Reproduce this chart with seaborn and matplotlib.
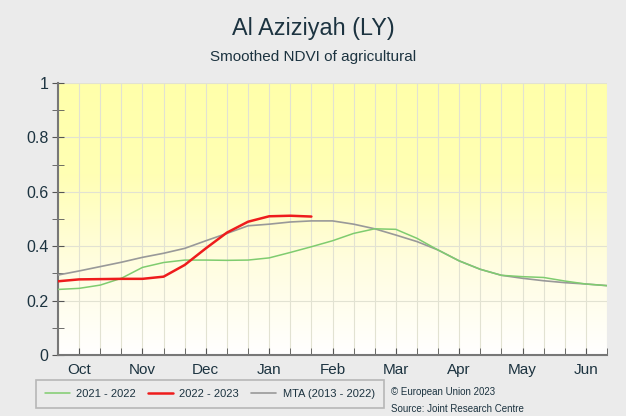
import numpy as np
import pandas as pd
import matplotlib
matplotlib.use("Agg")
import matplotlib.pyplot as plt
import seaborn as sns
from matplotlib.colors import LinearSegmentedColormap

# dekads from Oct dek1 (0) to Jun dek3 (26)
months = ['Oct', 'Nov', 'Dec', 'Jan', 'Feb', 'Mar', 'Apr', 'May', 'Jun']
yticks = [0, 0.2, 0.4, 0.6, 0.8, 1]
ytick_labels = ['0', '0.2', '0.4', '0.6', '0.8', '1']

ndvi_2122 = [0.241, 0.245, 0.257, 0.282, 0.322, 0.340, 0.349, 0.349, 0.348,
             0.349, 0.357, 0.377, 0.398, 0.420, 0.447, 0.464, 0.462, 0.429,
             0.386, 0.346, 0.315, 0.293, 0.288, 0.285, 0.272, 0.261, 0.255]
ndvi_2223 = [0.271, 0.278, 0.279, 0.280, 0.280, 0.288, 0.331, 0.392, 0.450,
             0.490, 0.510, 0.512, 0.509]
ndvi_mta = [0.294, 0.309, 0.325, 0.341, 0.359, 0.374, 0.392, 0.420, 0.447,
            0.475, 0.481, 0.489, 0.493, 0.493, 0.481, 0.464, 0.441, 0.417,
            0.386, 0.346, 0.315, 0.293, 0.282, 0.273, 0.266, 0.261, 0.255]

sns.set_style("white")
plt.rcParams['font.family'] = ['Liberation Sans', 'DejaVu Sans']

bg = '#ebebeb'
fig = plt.figure(figsize=(6.26, 4.16), dpi=100, facecolor=bg)
ax = fig.add_axes([58 / 626, 1 - 355 / 416, 549 / 626, 272 / 416])

# yellow-to-white background
cmap = LinearSegmentedColormap.from_list('yw', ['#ffffff', '#fffde0', '#ffffb4', '#ffffaa'])
grad = np.linspace(0, 1, 256).reshape(-1, 1)
ax.imshow(grad, extent=[0, 26, 0, 1], origin='lower', aspect='auto', cmap=cmap, zorder=0)

sns.lineplot(x=np.arange(len(ndvi_mta)), y=ndvi_mta, ax=ax, color='#999999', lw=1.2,
             label='MTA (2013 - 2022)', zorder=3)
sns.lineplot(x=np.arange(len(ndvi_2122)), y=ndvi_2122, ax=ax, color='#7fcc6f', lw=1.1,
             label='2021 - 2022', zorder=4)
sns.lineplot(x=np.arange(len(ndvi_2223)), y=ndvi_2223, ax=ax, color='#ee1c1c', lw=1.8,
             label='2022 - 2023', zorder=5)
handles, labels = ax.get_legend_handles_labels()
ax.get_legend().remove()

ax.set_xlim(0, 26)
ax.set_ylim(0, 1)
ax.set_xticks(np.arange(27), minor=True)
ax.set_xticks(np.arange(1, 27, 3))
ax.set_xticklabels(months)
ax.set_yticks(yticks)
ax.set_yticklabels(ytick_labels)
ax.set_yticks(np.arange(0.1, 1.0, 0.2), minor=True)
ax.grid(which='both', color='#e2e2d2', lw=0.8, zorder=1)
ax.grid(which='minor', axis='y', visible=False)

for s in ['top', 'right']:
    ax.spines[s].set_visible(False)
ax.spines['left'].set_color('#777777')
ax.spines['left'].set_linewidth(1.5)
ax.spines['bottom'].set_color('#777777')
ax.spines['bottom'].set_linewidth(1.5)

ax.tick_params(axis='x', which='both', direction='in', length=5, color='#555555',
               labelsize=11, labelcolor='#1c3340', pad=6, bottom=True)
ax.tick_params(axis='y', which='both', direction='inout', length=8, color='#555555',
               labelsize=11.5, labelcolor='#1c3340', pad=3, left=True)

ax.set_xlabel('')
ax.set_ylabel('')

order = [1, 2, 0]
leg = fig.legend([handles[i] for i in order], [labels[i] for i in order],
                 loc='center', bbox_to_anchor=(210 / 626, 1 - 394 / 416), ncol=3,
                 frameon=True, fancybox=False, fontsize=8, handlelength=2.2,
                 handletextpad=0.6, columnspacing=1.1, borderpad=0.8)
leg.get_frame().set_edgecolor('#aaaaaa')
leg.get_frame().set_facecolor(bg)
leg.get_frame().set_linewidth(1.2)
for t in leg.get_texts():
    t.set_color('#1c3340')

fig.text(0.5, 1 - 28 / 416, 'Al Aziziyah (LY)', ha='center', va='center',
         fontsize=16.8, color='#1c3340')
fig.text(0.5, 1 - 57 / 416, 'Smoothed NDVI of agricultural', ha='center', va='center',
         fontsize=11, color='#1c3340')
fig.text(391 / 626, 1 - 392 / 416, '\u00a9 European Union 2023', ha='left', va='center',
         fontsize=7, color='#1c3340')
fig.text(391 / 626, 1 - 409 / 416, 'Source: Joint Research Centre', ha='left', va='center',
         fontsize=7, color='#1c3340')

fig.savefig('out.png', dpi=100, facecolor=bg)
